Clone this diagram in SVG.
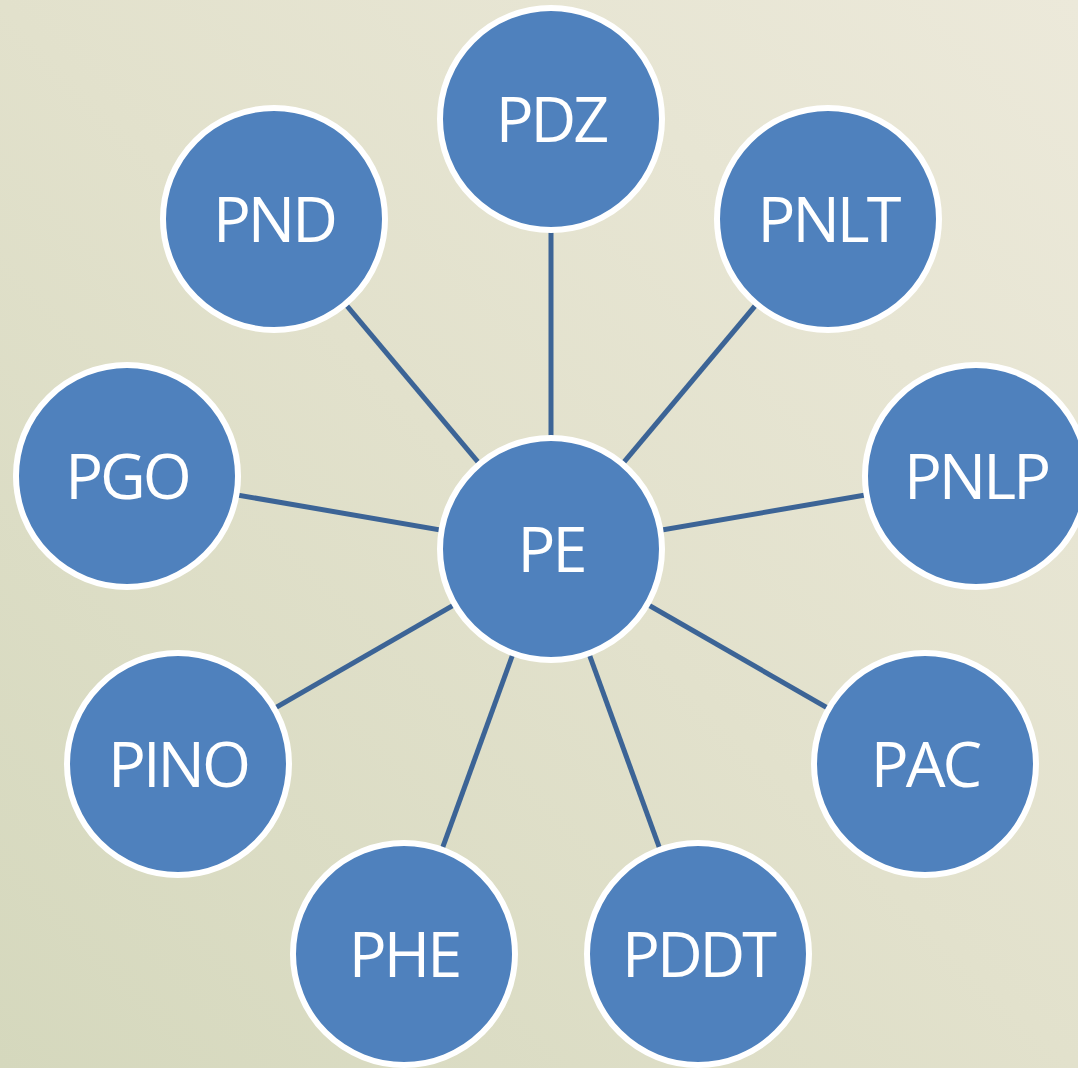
<svg xmlns="http://www.w3.org/2000/svg" width="1078" height="1068" viewBox="0 0 1078 1068">
<defs>
<linearGradient id="bg" x1="1" y1="0" x2="0" y2="1">
<stop offset="0" stop-color="#ece9da"/>
<stop offset="0.5" stop-color="#e2e1cc"/>
<stop offset="1" stop-color="#d5d8bd"/>
</linearGradient>
</defs>
<style>
.n circle{fill:#4f81bd;stroke:#ffffff;stroke-width:6}
.n text{fill:#ffffff;font-family:"Open Sans","Noto Sans",sans-serif;font-size:63px;letter-spacing:-3px;text-anchor:middle}
#connectors line{stroke:#3c6496;stroke-width:5}
</style>
<rect width="1078" height="1068" fill="url(#bg)"/>
<g id="connectors">
<line x1="551" y1="549" x2="551" y2="119"/>
<line x1="551" y1="549" x2="274" y2="219"/>
<line x1="551" y1="549" x2="828" y2="219"/>
<line x1="551" y1="549" x2="127" y2="476"/>
<line x1="551" y1="549" x2="976" y2="476"/>
<line x1="551" y1="549" x2="178" y2="764"/>
<line x1="551" y1="549" x2="925" y2="764"/>
<line x1="551" y1="549" x2="404" y2="954"/>
<line x1="551" y1="549" x2="698" y2="954"/>
</g>
<g id="PDZ" class="n"><circle cx="551" cy="119" r="111"/><text x="551" y="142">PDZ</text></g>
<g id="PND" class="n"><circle cx="274" cy="219" r="111"/><text x="274" y="242">PND</text></g>
<g id="PNLT" class="n"><circle cx="828" cy="219" r="111"/><text x="828" y="242">PNLT</text></g>
<g id="PGO" class="n"><circle cx="127" cy="476" r="111"/><text x="127" y="499">PGO</text></g>
<g id="PNLP" class="n"><circle cx="976" cy="476" r="111"/><text x="976" y="499">PNLP</text></g>
<g id="PINO" class="n"><circle cx="178" cy="764" r="111"/><text x="178" y="787">PINO</text></g>
<g id="PAC" class="n"><circle cx="925" cy="764" r="111"/><text x="925" y="787">PAC</text></g>
<g id="PHE" class="n"><circle cx="404" cy="954" r="111"/><text x="404" y="977">PHE</text></g>
<g id="PDDT" class="n"><circle cx="698" cy="954" r="111"/><text x="698" y="977">PDDT</text></g>
<g id="PE" class="n"><circle cx="551" cy="549" r="111"/><text x="551" y="572">PE</text></g>
</svg>
